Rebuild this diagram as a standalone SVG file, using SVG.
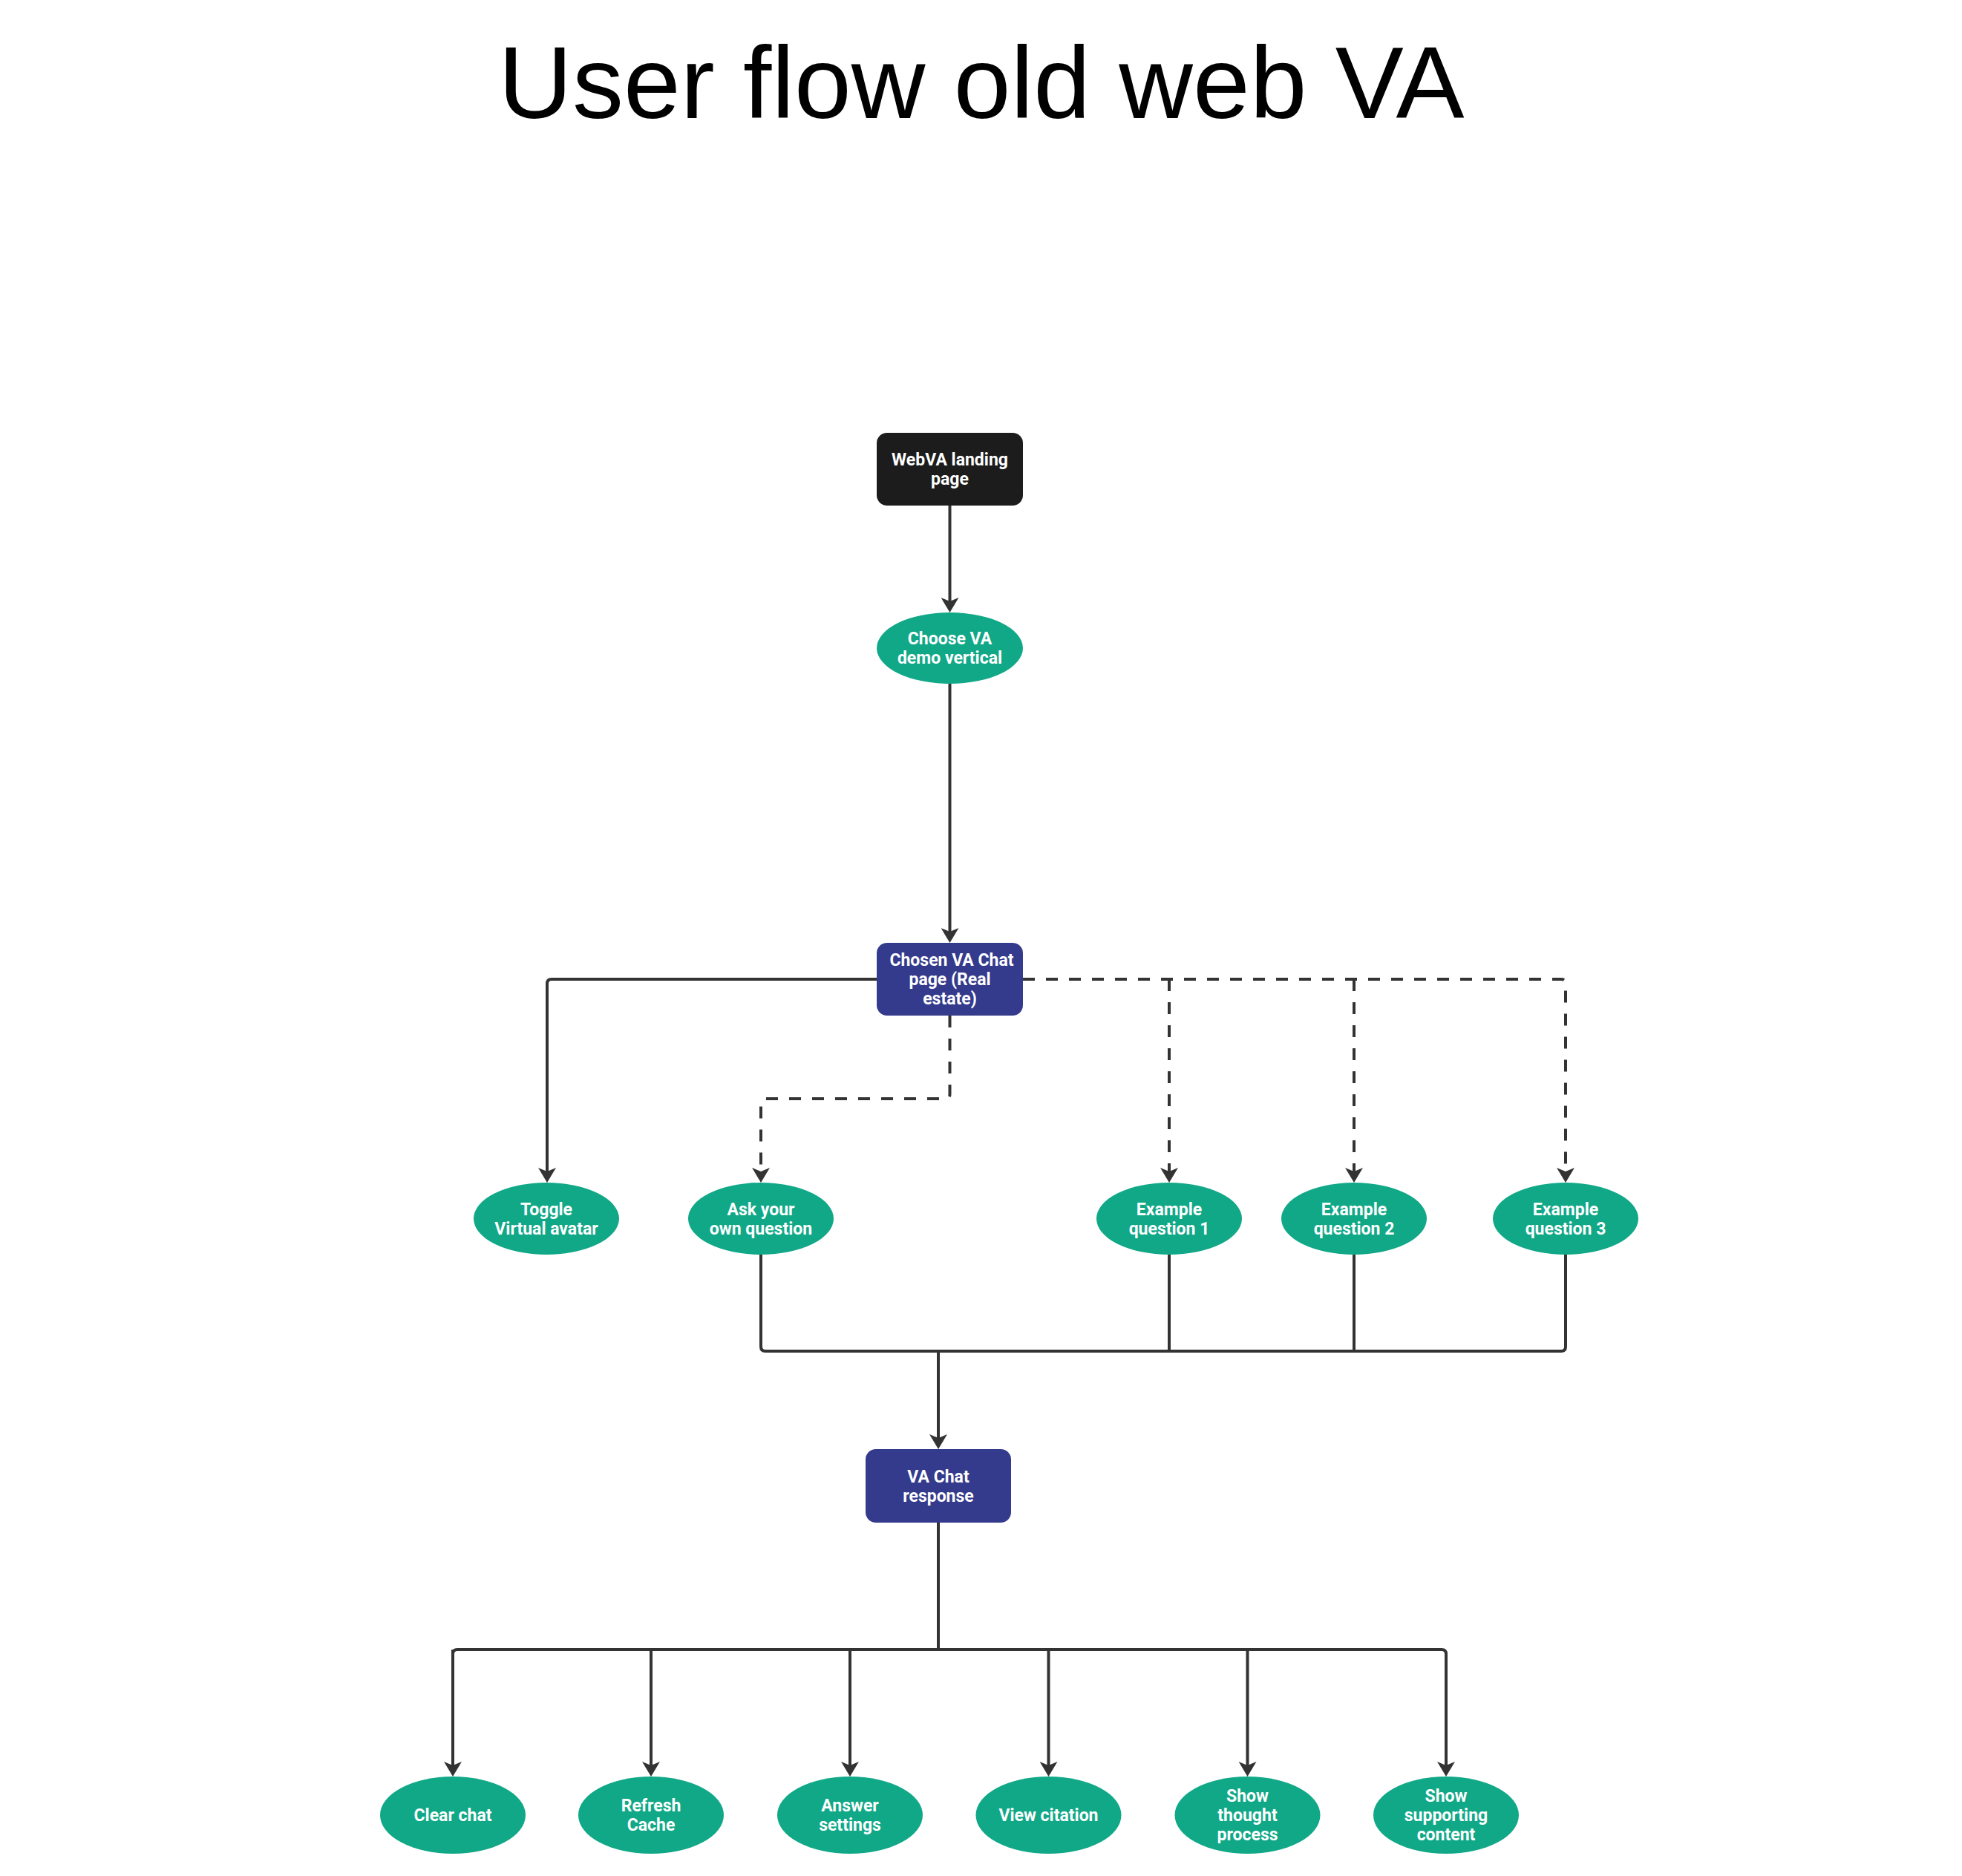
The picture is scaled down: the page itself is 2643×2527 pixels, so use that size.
<svg xmlns="http://www.w3.org/2000/svg" width="2643" height="2527" viewBox="0 0 2643 2527">
<style>
.title{font-family:"Liberation Sans",Arial,sans-serif;font-size:138px;fill:#000;text-anchor:middle}
.lbl{font-family:Roboto,"Liberation Sans",Arial,sans-serif;font-weight:bold;font-size:23px;fill:#ffffff;text-anchor:middle}
.dark{fill:#1c1c1c}
.blue{fill:#343a8c}
.green{fill:#10a887}
.edge{fill:none;stroke:#333333;stroke-width:4;stroke-linejoin:round}
.dash{stroke-dasharray:16 15}
</style>
<defs>
<marker id="arr" viewBox="0 0 20 24" refX="12" refY="12" markerWidth="20" markerHeight="24" markerUnits="userSpaceOnUse" orient="auto">
<path d="M0,0 L20,12 L0,24 L5,12 z" fill="#333333"/>
</marker>
<clipPath id="clipProc"><rect x="1580" y="2390" width="200" height="93"/></clipPath>
</defs>
<rect width="2643" height="2527" fill="#ffffff"/>
<text class="title" x="1322" y="159">User flow old web VA</text>

<g id="connectors">
<path class="edge" d="M1279.5,681 V817" marker-end="url(#arr)"/>
<path class="edge" d="M1279.5,920 V1262" marker-end="url(#arr)"/>
<path class="edge" d="M1181,1319 H743 Q737,1319 737,1325 V1585" marker-end="url(#arr)"/>
<path class="edge dash" d="M1279.5,1368 V1474 Q1279.5,1480 1273.5,1480 H1031 Q1025,1480 1025,1486 V1585" marker-end="url(#arr)"/>
<path class="edge dash" d="M1378,1319 H2103 Q2109,1319 2109,1325 V1585" marker-end="url(#arr)"/>
<path class="edge dash" d="M1575,1319 V1585" marker-end="url(#arr)"/>
<path class="edge dash" d="M1824,1319 V1585" marker-end="url(#arr)"/>
<path class="edge" d="M1025,1690 V1814 Q1025,1820 1031,1820 H2103 Q2109,1820 2109,1814 V1690"/>
<path class="edge" d="M1575,1690 V1820"/>
<path class="edge" d="M1824,1690 V1820"/>
<path class="edge" d="M1264,1820 V1944" marker-end="url(#arr)"/>
<path class="edge" d="M1264,2051 V2222"/>
<path class="edge" d="M610,2385 V2228 Q610,2222 616,2222 H1942 Q1948,2222 1948,2228 V2385" marker-end="url(#arr)"/>
<path class="edge" d="M877,2222 V2385" marker-end="url(#arr)"/>
<path class="edge" d="M1145,2222 V2385" marker-end="url(#arr)"/>
<path class="edge" d="M1412.5,2222 V2385" marker-end="url(#arr)"/>
<path class="edge" d="M1680.5,2222 V2385" marker-end="url(#arr)"/>
<path class="edge" d="M610,2222 V2385" marker-end="url(#arr)"/>
</g>

<g id="n-landing">
<rect class="dark" x="1181" y="583" width="197" height="98" rx="14"/>
<text class="lbl" x="1279.5" y="627">WebVA landing</text>
<text class="lbl" x="1279.5" y="653">page</text>
</g>
<g id="n-choose">
<ellipse class="green" cx="1279.5" cy="873" rx="98.5" ry="48"/>
<text class="lbl" x="1279.5" y="868">Choose VA</text>
<text class="lbl" x="1279.5" y="894">demo vertical</text>
</g>
<g id="n-chosen">
<rect class="blue" x="1181" y="1270" width="197" height="98" rx="14"/>
<text class="lbl" x="1282" y="1301">Chosen VA Chat</text>
<text class="lbl" x="1279.5" y="1327">page (Real</text>
<text class="lbl" x="1279.5" y="1353">estate)</text>
</g>
<g id="n-toggle">
<ellipse class="green" cx="736" cy="1641.5" rx="98" ry="48.5"/>
<text class="lbl" x="736" y="1637">Toggle</text>
<text class="lbl" x="736" y="1663">Virtual avatar</text>
</g>
<g id="n-ask">
<ellipse class="green" cx="1025" cy="1641.5" rx="98" ry="48.5"/>
<text class="lbl" x="1025" y="1637">Ask your</text>
<text class="lbl" x="1025" y="1663">own question</text>
</g>
<g id="n-q1">
<ellipse class="green" cx="1575" cy="1641.5" rx="98" ry="48.5"/>
<text class="lbl" x="1575" y="1637">Example</text>
<text class="lbl" x="1575" y="1663">question 1</text>
</g>
<g id="n-q2">
<ellipse class="green" cx="1824" cy="1641.5" rx="98" ry="48.5"/>
<text class="lbl" x="1824" y="1637">Example</text>
<text class="lbl" x="1824" y="1663">question 2</text>
</g>
<g id="n-q3">
<ellipse class="green" cx="2109" cy="1641.5" rx="98" ry="48.5"/>
<text class="lbl" x="2109" y="1637">Example</text>
<text class="lbl" x="2109" y="1663">question 3</text>
</g>
<g id="n-response">
<rect class="blue" x="1166" y="1952" width="196" height="99" rx="14"/>
<text class="lbl" x="1264" y="1997">VA Chat</text>
<text class="lbl" x="1264" y="2023">response</text>
</g>
<g id="n-clear">
<ellipse class="green" cx="610" cy="2445" rx="98" ry="52"/>
<text class="lbl" x="610" y="2453">Clear chat</text>
</g>
<g id="n-refresh">
<ellipse class="green" cx="877" cy="2445" rx="98" ry="52"/>
<text class="lbl" x="877" y="2440">Refresh</text>
<text class="lbl" x="877" y="2466">Cache</text>
</g>
<g id="n-answer">
<ellipse class="green" cx="1145" cy="2445" rx="98" ry="52"/>
<text class="lbl" x="1145" y="2440">Answer</text>
<text class="lbl" x="1145" y="2466">settings</text>
</g>
<g id="n-citation">
<ellipse class="green" cx="1412.5" cy="2445" rx="98" ry="52"/>
<text class="lbl" x="1412.5" y="2453">View citation</text>
</g>
<g id="n-thought">
<ellipse class="green" cx="1680.5" cy="2445" rx="98" ry="52"/>
<g clip-path="url(#clipProc)">
<text class="lbl" x="1680.5" y="2427">Show</text>
<text class="lbl" x="1680.5" y="2453">thought</text>
<text class="lbl" x="1680.5" y="2479">process</text>
</g>
</g>
<g id="n-supporting">
<ellipse class="green" cx="1948" cy="2445" rx="98" ry="52"/>
<text class="lbl" x="1948" y="2427">Show</text>
<text class="lbl" x="1948" y="2453">supporting</text>
<text class="lbl" x="1948" y="2479">content</text>
</g>
</svg>
